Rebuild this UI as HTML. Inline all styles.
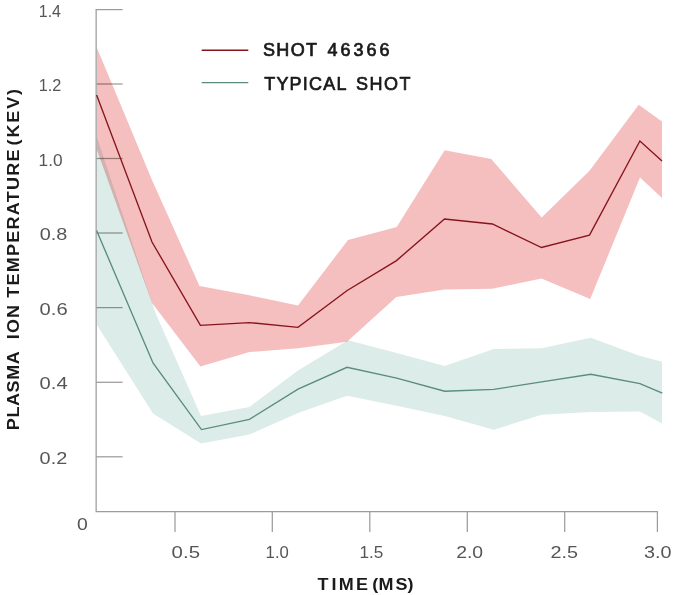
<!DOCTYPE html>
<html lang="en"><head><meta charset="utf-8"><title>Plasma ion temperature</title>
<style>
html,body{margin:0;padding:0;background:#fff;}
body{width:675px;height:595px;overflow:hidden;}
svg{display:block;}
text{font-family:"Liberation Sans",sans-serif;}
.num{font-size:16.5px;fill:#555;}
.lab{font-size:18px;font-weight:bold;fill:#1a1a1a;}
.leg{font-size:18px;font-weight:normal;fill:#1a1a1a;stroke:#1a1a1a;stroke-width:0.7px;stroke-linejoin:round;}
</style></head><body>
<svg width="675" height="595" viewBox="0 0 675 595">
<rect width="675" height="595" fill="#fff"/>
<g stroke="#9c9c9c" stroke-width="1.25" fill="none">
<path d="M96.15,9.1 V511.5 H657.9"/>
<path d="M96.15,9.6 H122.6"/>
<path d="M96.15,84 H122.6"/>
<path d="M96.15,158.5 H122.6"/>
<path d="M96.15,233 H122.6"/>
<path d="M96.15,307.6 H122.6"/>
<path d="M96.15,382.3 H122.6"/>
<path d="M96.15,456.8 H122.6"/>
<path d="M175,511.5 V532"/>
<path d="M272.3,511.5 V532"/>
<path d="M369.8,511.5 V532"/>
<path d="M467.3,511.5 V532"/>
<path d="M564.7,511.5 V532"/>
<path d="M657.4,511.5 V532"/>
</g>
<polygon points="97,137.6 155.5,313 201,416 249.4,407 298,370.5 348,340.3 396.7,352.9 444.7,366 493.8,349.1 541.6,348.3 590.8,337.7 638.7,355.4 662,361.7 662,423.5 640,411.4 590.8,412.1 541.6,414.7 493.8,429.8 444.7,416 396.7,405.8 347,395.7 298,413.1 249.4,434.6 201,443.5 153,413.4 97,325" fill="#dcece8" style="mix-blend-mode:multiply"/>
<polygon points="97,48 152,180 199.5,286 249.4,295.3 298,305.5 348,240 396.7,227.1 444.7,150.2 491.3,159 541.6,217.5 589.5,170.8 638.7,104.7 662,121.6 662,198 640,177.4 590.2,299.1 541.5,278.6 492.2,288.8 444.3,289.5 396.4,297 347,341.8 298,348.3 249.4,352 200.4,366.5 152,303 97,150" fill="#f5bfc0" style="mix-blend-mode:multiply"/>
<polyline points="96.6,230.5 153,363 201.5,429.6 249.4,419.4 298,389.2 347,367.3 396.7,378.1 444.7,391.2 493.8,389.4 541.6,381.9 590.8,374.3 640,383.6 662.3,393.2" fill="none" stroke="#5b8c7e" stroke-width="1.35" stroke-linejoin="miter"/>
<polyline points="96.6,95 152,242 200.4,325.3 249.4,322.6 298,327.3 347.2,290.5 396.5,260.6 444.5,219 492.4,224 541.5,247.5 589.5,235.1 639.9,141 662,161" fill="none" stroke="#85151b" stroke-width="1.35" stroke-linejoin="miter"/>
<path d="M201.7,50.2 H248.3" stroke="#85151b" stroke-width="1.35"/>
<path d="M201.7,82.6 H248.3" stroke="#5b8c7e" stroke-width="1.35"/>
<text class="leg" x="262.9" y="55.8" textLength="54.2" lengthAdjust="spacing">SHOT</text>
<text class="leg" x="327.5" y="55.8" textLength="61.9" lengthAdjust="spacing">46366</text>
<text class="leg" x="264.2" y="89.5" textLength="82.2" lengthAdjust="spacing">TYPICAL</text>
<text class="leg" x="356.1" y="89.5" textLength="54.3" lengthAdjust="spacing">SHOT</text>
<text class="num" x="38.8" y="16.7" textLength="22.2" lengthAdjust="spacingAndGlyphs">1.4</text>
<text class="num" x="38.8" y="91.1" textLength="22.6" lengthAdjust="spacingAndGlyphs">1.2</text>
<text class="num" x="38.6" y="165.6" textLength="24.0" lengthAdjust="spacingAndGlyphs">1.0</text>
<text class="num" x="39.8" y="240.1" textLength="27.6" lengthAdjust="spacingAndGlyphs">0.8</text>
<text class="num" x="39.6" y="314.7" textLength="28.0" lengthAdjust="spacingAndGlyphs">0.6</text>
<text class="num" x="39.6" y="389.4" textLength="28.0" lengthAdjust="spacingAndGlyphs">0.4</text>
<text class="num" x="39.6" y="463.9" textLength="27.6" lengthAdjust="spacingAndGlyphs">0.2</text>
<text class="num" x="77.0" y="529.9" textLength="10.8" lengthAdjust="spacingAndGlyphs">0</text>
<text class="num" x="171.6" y="558.3" textLength="28.4" lengthAdjust="spacingAndGlyphs">0.5</text>
<text class="num" x="265.6" y="558.3" textLength="23.2" lengthAdjust="spacingAndGlyphs">1.0</text>
<text class="num" x="359.6" y="558.3" textLength="23.8" lengthAdjust="spacingAndGlyphs">1.5</text>
<text class="num" x="456.2" y="558.3" textLength="26.9" lengthAdjust="spacingAndGlyphs">2.0</text>
<text class="num" x="550.5" y="558.3" textLength="27.5" lengthAdjust="spacingAndGlyphs">2.5</text>
<text class="num" x="644.0" y="558.3" textLength="27.5" lengthAdjust="spacingAndGlyphs">3.0</text>
<text class="lab" transform="translate(0,589.6) scale(1,0.9)" y="0" text-anchor="middle" x="322.9 333.9 346.2 362.0 369.5 375.2 385.9 401.6 410.5">TIME (MS)</text>
<g transform="translate(18.8,0) rotate(-90) scale(1,0.9)">
<text class="lab" x="-430.2" y="0.0" textLength="78.9" lengthAdjust="spacing">PLASMA</text>
<text class="lab" x="-339.2" y="0.0" textLength="34.3" lengthAdjust="spacing">ION</text>
<text class="lab" x="-297.8" y="0.0" textLength="148.2" lengthAdjust="spacing">TEMPERATURE</text>
<text class="lab" x="-145.5" y="0.0" textLength="56.5" lengthAdjust="spacing">(KEV)</text>
</g>
</svg></body></html>
